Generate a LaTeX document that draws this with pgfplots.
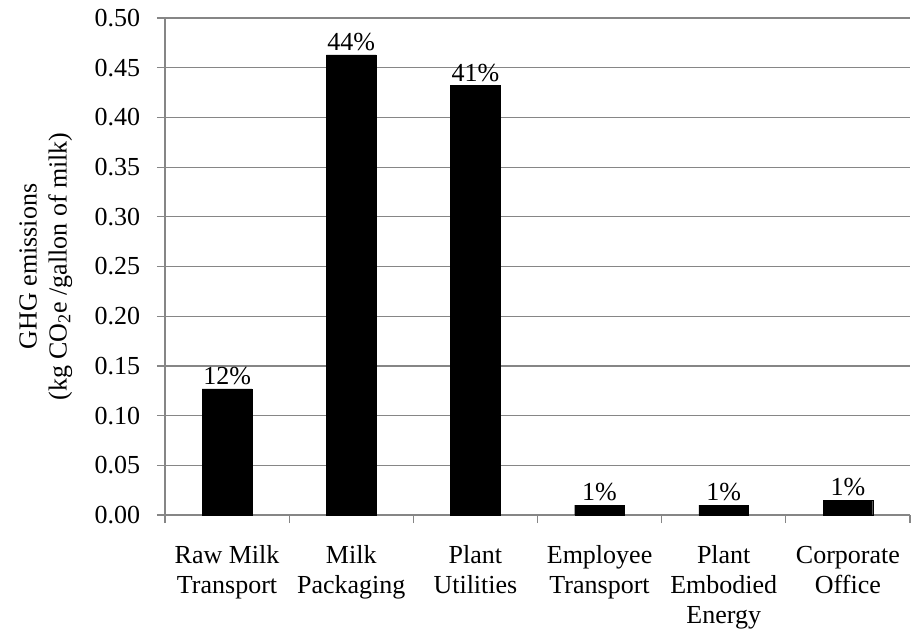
\documentclass[border=0pt]{standalone}
\usepackage{pgfplots}
\pgfplotsset{compat=1.18}
\usepackage{fontspec}
\setmainfont{Liberation Serif}
\definecolor{gridgray}{HTML}{868686}
\begin{document}
\fontsize{26}{30}\selectfont
\begin{tikzpicture}
\begin{axis}[
  at={(0pt,0pt)}, anchor=south west,
  scale only axis,
  width=745pt, height=497pt,
  xmin=-0.5, xmax=5.5,
  ymin=0, ymax=0.5,
  axis x line*=bottom,
  axis y line*=left,
  axis line style={gridgray, line width=1.2pt},
  every tick/.style={gridgray, line width=1.2pt},
  tick align=outside,
  major tick length=8pt,
  minor tick length=8pt,
  xtick={0,1,2,3,4,5},
  xticklabels={Raw Milk\\Transport, Milk\\Packaging, Plant\\Utilities, Employee\\Transport, Plant\\Embodied\\Energy, Corporate\\Office},
  major x tick style={draw=none},
  minor xtick={-0.5,0.5,...,5.5},
  minor x tick style={draw=gridgray, line width=1.2pt},
  xticklabel style={align=center, anchor=north, font=\fontsize{26}{30}\selectfont, yshift=-14pt},
  ytick={0,0.05,...,0.5},
  yticklabel style={/pgf/number format/fixed, /pgf/number format/fixed zerofill, /pgf/number format/precision=2, font=\fontsize{26}{30}\selectfont, xshift=-8pt},
  /pgf/number format/assume math mode=true,
  ymajorgrids,
  grid style={gridgray, line width=1.2pt},
  ylabel={GHG emissions\\(kg CO\textsubscript{2}e /gallon of milk)},
  ylabel style={align=center, font=\fontsize{26}{30}\selectfont, at={(axis description cs:-0.16,0.5)}, anchor=center},
  clip=false,
]
% emissions per gallon of milk by life-cycle stage
\addplot[
  ybar, bar width=0.4, fill=black, draw=black,
  point meta=explicit symbolic,
  nodes near coords,
  every node near coord/.style={font=\fontsize{26}{30}\selectfont, anchor=south, inner sep=4pt, black},
] coordinates {
  (0,0.127) [12\%]
  (1,0.463) [44\%]
  (2,0.432) [41\%]
  (3,0.010) [1\%]
  (4,0.010) [1\%]
  (5,0.015) [1\%]
};
\end{axis}
\pgfresetboundingbox
\path (-165pt,-115pt) rectangle (749pt,515pt);
\end{tikzpicture}
\end{document}
